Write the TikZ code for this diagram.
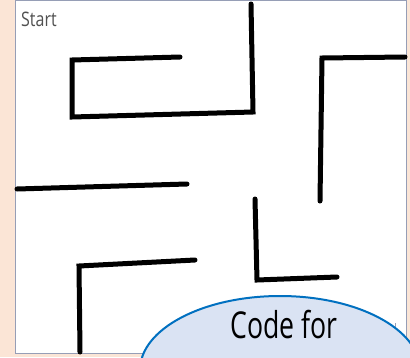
\documentclass[tikz,border=0pt]{standalone}
\usepackage{fontspec}
\setmainfont{Open Sans}
\usepackage{graphicx}
\definecolor{peach}{HTML}{FBE5D6}
\definecolor{panelborder}{RGB}{150,158,182}
\definecolor{ellfill}{HTML}{DAE3F3}
\definecolor{ellborder}{HTML}{0070C0}
\definecolor{starttext}{HTML}{505050}
\tikzset{
  wall/.style={line width=5pt, black, line cap=round, line join=miter},
}
\begin{document}
\begin{tikzpicture}[x=1pt,y=-1pt]
\useasboundingbox (0,0) rectangle (410,357);
\fill[peach] (0,0) rectangle (410,357);
\filldraw[fill=white, draw=panelborder, line width=1.2pt] (15.5,0.5) rectangle (406.5,353.5);
\node[anchor=base west, inner sep=0pt, text=starttext, font=\fontsize{20}{20}\selectfont] (start) at (21,26) {\scalebox{0.8}[1]{Start}};
% maze walls
\draw[wall] (180,57) -- (72,60) -- (72,117) -- (253,112) -- (251,4);
\draw[wall] (405,57) -- (322,58) -- (320,201);
\draw[wall] (17,189) -- (187,184);
\draw[wall] (195,260) -- (79,266) -- (80,352);
\draw[wall] (255,199) -- (257,280) -- (337,277);
% small mark
\draw[panelborder, line width=1pt] (395,323) -- (395,329);
% ellipse
\filldraw[fill=ellfill, draw=ellborder, line width=2pt] (280,370) ellipse [x radius=140, y radius=74];
\node[anchor=base, inner sep=0pt, font=\fontsize{37}{37}\selectfont] (code) at (284,338) {\scalebox{0.72}[1]{Code for}};
\end{tikzpicture}
\end{document}
